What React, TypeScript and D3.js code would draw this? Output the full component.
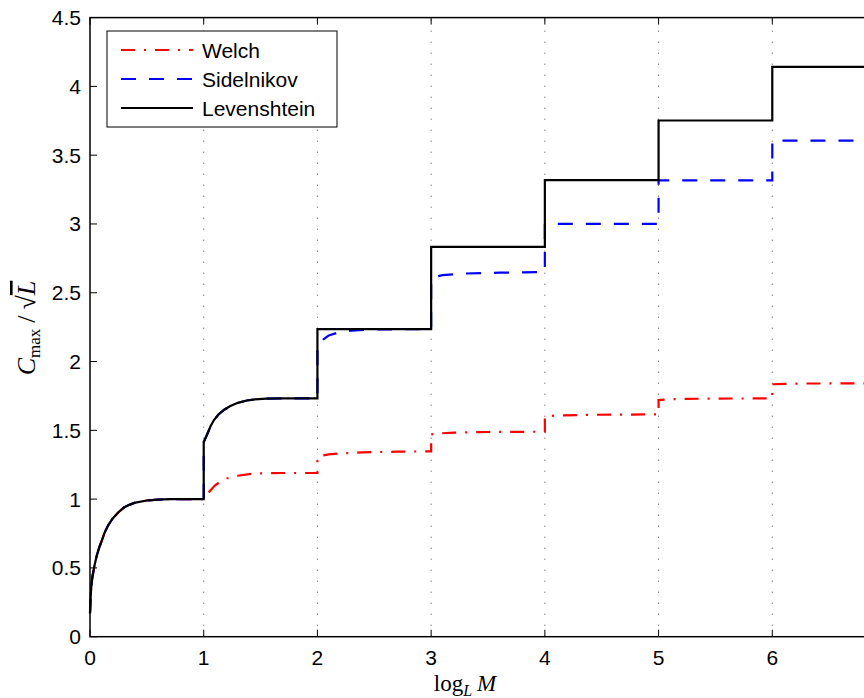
import { useEffect } from 'react'
import * as d3 from 'd3'

// readings, [log_L M, Cmax/sqrt(L)]
const rise: [number, number][] = [
  [0, 0.17], [0.005, 0.27], [0.01, 0.35], [0.02, 0.43], [0.04, 0.52], [0.06, 0.59],
  [0.08, 0.645], [0.1, 0.69], [0.13, 0.76], [0.16, 0.81], [0.2, 0.86], [0.25, 0.905],
  [0.3, 0.94], [0.35, 0.96], [0.4, 0.975], [0.5, 0.99], [0.6, 0.997], [0.7, 1.0], [1, 1.0],
]
const secondStep: [number, number][] = [
  [1, 1.414], [1.03, 1.47], [1.06, 1.53], [1.09, 1.575], [1.13, 1.615], [1.18, 1.65],
  [1.23, 1.675], [1.3, 1.7], [1.38, 1.717], [1.45, 1.725], [1.55, 1.73], [1.7, 1.732], [2, 1.732],
]

const welch: [number, number][] = [
  ...rise,
  [1.03, 1.035], [1.06, 1.065], [1.1, 1.1], [1.15, 1.13], [1.2, 1.15], [1.3, 1.17],
  [1.4, 1.182], [1.5, 1.187], [1.7, 1.19], [2, 1.19],
  [2, 1.3], [2.03, 1.315], [2.1, 1.325], [2.2, 1.332], [2.4, 1.34], [2.7, 1.345], [3, 1.347],
  [3, 1.47], [3.05, 1.477], [3.2, 1.483], [3.5, 1.488], [4, 1.49],
  [4, 1.6], [4.1, 1.608], [4.4, 1.613], [5, 1.616],
  [5, 1.72], [5.1, 1.727], [5.5, 1.731], [6, 1.732],
  [6, 1.835], [6.2, 1.84], [7, 1.842],
]

const sidelnikov: [number, number][] = [
  ...rise,
  ...secondStep,
  [2, 2.12], [2.05, 2.16], [2.1, 2.19], [2.2, 2.215], [2.3, 2.225], [2.5, 2.233], [3, 2.236],
  [3, 2.6], [3.03, 2.615], [3.1, 2.628], [3.3, 2.64], [3.6, 2.646], [4, 2.65],
  [4, 3.0], [5, 3.0],
  [5, 3.317], [6, 3.317],
  [6, 3.606], [7, 3.606],
]

const levenshtein: [number, number][] = [
  ...rise,
  ...secondStep,
  [2, 2.236], [3, 2.236],
  [3, 2.833], [4, 2.833],
  [4, 3.318], [5, 3.318],
  [5, 3.752], [6, 3.752],
  [6, 4.142], [7, 4.142],
]

// 7 sits past the right edge of the crop, so only 0..6 get labels
const xTicks = [0, 1, 2, 3, 4, 5, 6]
const yTicks = [0, 0.5, 1, 1.5, 2, 2.5, 3, 3.5, 4, 4.5]

const series = [
  { name: 'Welch', data: welch, color: '#ff0000', dash: '14,9,2,9' },
  { name: 'Sidelnikov', data: sidelnikov, color: '#0000ff', dash: '15,13' },
  { name: 'Levenshtein', data: levenshtein, color: '#000000', dash: null as string | null },
]

const W = 864
const H = 698
const SANS = '"Liberation Sans", Arial, sans-serif'
const SERIF = '"Liberation Serif", "Times New Roman", serif'

export default function App() {
  useEffect(() => {
    document.body.style.margin = '0'
    document.body.style.overflow = 'hidden'
  }, [])

  const x = d3.scaleLinear().domain([0, 7]).range([90, 886])
  const y = d3.scaleLinear().domain([0, 4.5]).range([636.7, 17.6])
  const line = d3.line<[number, number]>().x(d => x(d[0])).y(d => y(d[1]))

  const [x0, x1] = x.range()
  const [yb, yt] = y.range()

  return (
    <svg width={W} height={H} style={{ display: 'block', background: '#fff' }}>
      <rect width={W} height={H} fill="#fff" />

      {/* dotted grid at the x ticks */}
      {xTicks.filter(t => t > 0).map(t => (
        <line key={'g' + t} x1={x(t)} x2={x(t)} y1={yb} y2={yt}
          stroke="#444" strokeWidth={1} strokeDasharray="1,10" />
      ))}

      {series.map(s => (
        <path key={s.name} d={line(s.data) ?? ''} fill="none" stroke={s.color}
          strokeWidth={2.2} strokeDasharray={s.dash ?? undefined} />
      ))}

      {/* frame */}
      <rect x={x0} y={yt} width={x1 - x0} height={yb - yt} fill="none" stroke="#000" strokeWidth={1.5} />

      {/* ticks */}
      {xTicks.map(t => (
        <g key={'xt' + t}>
          <line x1={x(t)} x2={x(t)} y1={yb} y2={yb - 7} stroke="#000" />
          <line x1={x(t)} x2={x(t)} y1={yt} y2={yt + 7} stroke="#000" />
          <text x={x(t)} y={665} textAnchor="middle" fontFamily={SANS} fontSize={21}>{t}</text>
        </g>
      ))}
      {yTicks.map(t => (
        <g key={'yt' + t}>
          <line x1={x0} x2={x0 + 7} y1={y(t)} y2={y(t)} stroke="#000" />
          <text x={81} y={y(t) + 7.5} textAnchor="end" fontFamily={SANS} fontSize={21}>{t}</text>
        </g>
      ))}

      {/* axis labels */}
      <text x={465} y={691} textAnchor="middle" fontFamily={SERIF} fontSize={23}>
        <tspan>log</tspan>
        <tspan fontStyle="italic" fontSize={16} dy={5}>L</tspan>
        <tspan fontStyle="italic" dy={-5} dx={5}>M</tspan>
      </text>
      <g transform="translate(35,328) rotate(-90)">
        <text textAnchor="middle" fontFamily={SERIF} fontSize={26}>
          <tspan fontStyle="italic">C</tspan>
          <tspan fontSize={17} dy={5}>max</tspan>
          <tspan dy={-5} dx={6}>/</tspan>
          <tspan dx={6}>√</tspan>
          <tspan fontStyle="italic" style={{ textDecoration: 'overline' }}>L</tspan>
        </text>
      </g>

      {/* legend */}
      <rect x={107} y={31} width={230} height={96} fill="#fff" stroke="#000" strokeWidth={1} />
      {series.map((s, i) => {
        const ly = 50 + i * 29
        return (
          <g key={'lg' + s.name}>
            <line x1={121} x2={193} y1={ly} y2={ly} stroke={s.color} strokeWidth={2.2}
              strokeDasharray={s.dash ?? undefined} />
            <text x={202} y={ly + 7.5} fontFamily={SANS} fontSize={21}>{s.name}</text>
          </g>
        )
      })}
    </svg>
  )
}
